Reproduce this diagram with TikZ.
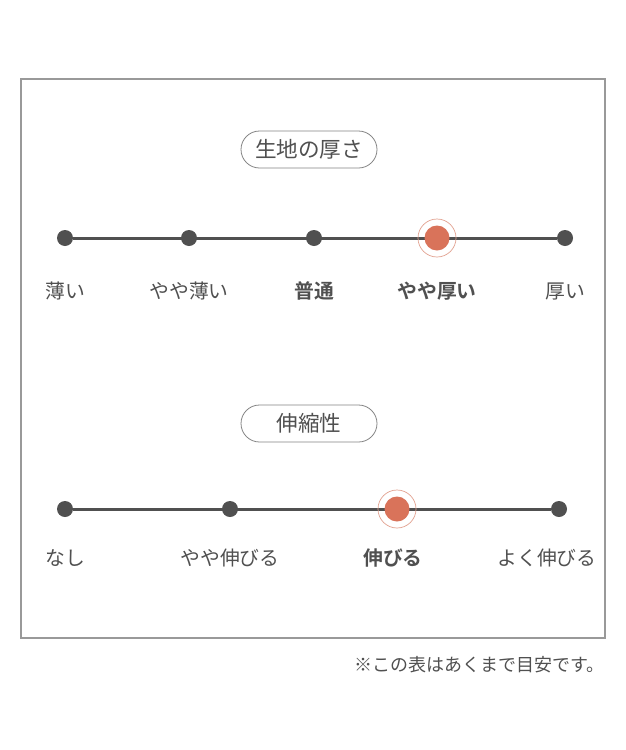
\documentclass[tikz,border=0pt]{standalone}
\usepackage{fontspec}
\newfontfamily\cjk{Noto Sans CJK JP}
\newfontfamily\cjkbold{Noto Sans CJK JP Bold}
\definecolor{ink}{HTML}{505050}
\definecolor{akane}{HTML}{D9735A}
\definecolor{ringcol}{HTML}{E2A08E}
\begin{document}
\begin{tikzpicture}
		[x=1pt,y=-1pt,
		bar/.style={draw=ink,line width=3pt},
		pt/.style={circle,fill=ink,inner sep=0pt,minimum size=16pt},
		sel/.style={circle,fill=akane,inner sep=0pt,minimum size=25pt},
		ring/.style={circle,draw=ringcol,line width=0.7pt,inner sep=0pt,minimum size=38pt},
		lbl/.style={text=ink,font=\cjk\fontsize{19.8}{20}\selectfont},
		lblb/.style={text=ink,font=\cjkbold\fontsize{19.8}{20}\selectfont},
		pill/.style={draw=ink!70,line width=0.8pt,rounded corners=18.5pt,minimum width=136pt,minimum height=37pt,text=ink,font=\cjk\fontsize{21.6}{22}\selectfont}]
		\useasboundingbox (0,0) rectangle (625,750);
		\fill[white] (0,0) rectangle (625,750);
		\draw[draw=black!40,line width=1.3pt] (21,79) rectangle (605,638);
		% thickness
		\node[pill] (t1) at (309,149.5) {生地の厚さ};
		\node[pt] (a1) at (65,238) {};
		\node[pt] (a2) at (189,238) {};
		\node[pt] (a3) at (314,238) {};
		\coordinate (a4) at (437,238);
		\node[pt] (a5) at (565,238) {};
		\draw[bar] (a1) -- (a5);
		\node[ring] (r1) at (a4) {};
		\node[sel] at (a4) {};
		\node[lbl] at (65,291) {薄い};
		\node[lbl] at (189,291) {やや薄い};
		\node[lblb] at (314,291) {普通};
		\node[lblb] at (437,291) {やや厚い};
		\node[lbl] at (565,291) {厚い};
		% stretch
		\node[pill] (t2) at (309,423.5) {伸縮性};
		\node[pt] (b1) at (65,509) {};
		\node[pt] (b2) at (230,509) {};
		\coordinate (b3) at (397,509);
		\node[pt] (b4) at (559,509) {};
		\draw[bar] (b1) -- (b4);
		\node[ring] (r2) at (b3) {};
		\node[sel] at (b3) {};
		\node[lbl] at (65,558) {なし};
		\node[lbl] at (230,558) {やや伸びる};
		\node[lblb] at (393,558) {伸びる};
		\node[lbl] at (547,558) {よく伸びる};
		\node[lbl,anchor=east,font=\cjk\fontsize{18}{18}\selectfont] (note) at (608,665) {※この表はあくまで目安です。};
	\end{tikzpicture}
\end{document}
